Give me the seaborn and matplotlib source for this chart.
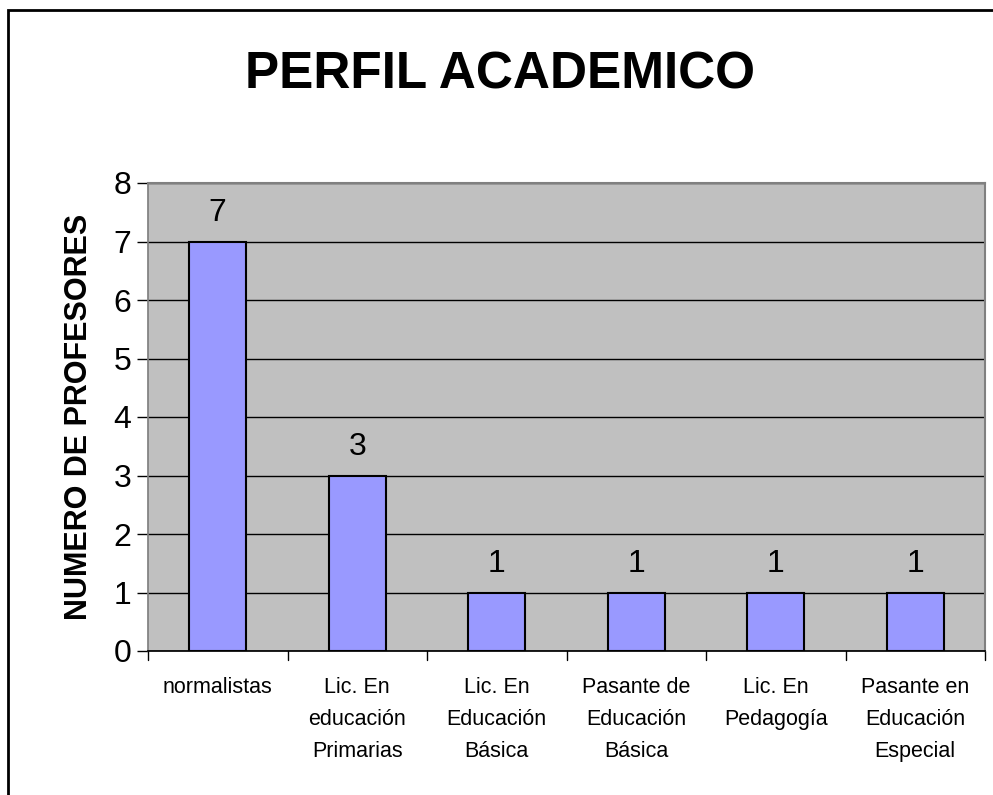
import pandas as pd
import matplotlib.pyplot as plt
import seaborn as sns

categorias = ["normalistas", "Lic. En\neducación\nPrimarias", "Lic. En\nEducación\nBásica",
              "Pasante de\nEducación\nBásica", "Lic. En\nPedagogía", "Pasante en\nEducación\nEspecial"]
profesores = [7, 3, 1, 1, 1, 1]

df = pd.DataFrame({"perfil": categorias, "profesores": profesores})

sns.set_theme(style="white")
plt.rcParams['font.family'] = ['Liberation Sans', 'DejaVu Sans']
plt.rcParams['text.color'] = 'black'
plt.rcParams['xtick.color'] = 'black'
plt.rcParams['ytick.color'] = 'black'
plt.rcParams['axes.labelcolor'] = 'black'

fig = plt.figure(figsize=(9.93, 7.95), dpi=100)
ax = fig.add_axes([148 / 993, 1 - 651 / 795, (985 - 148) / 993, (651 - 183) / 795])
ax.set_facecolor("#c0c0c0")

sns.barplot(data=df, x="perfil", y="profesores", color="#9999ff", saturation=1,
            width=0.41, edgecolor="black", linewidth=1.5, ax=ax, zorder=3)

ax.set_ylim(0, 8)
ax.set_xlim(-0.5, len(categorias) - 0.5)
ax.set_yticks(range(0, 9))
ax.yaxis.grid(True, color="black", linewidth=1)
ax.set_axisbelow(True)
ax.tick_params(axis="y", labelsize=23, length=8, width=1, direction="out", left=True, pad=4)
ax.tick_params(axis="x", labelsize=15.5, length=0, pad=19)
ax.set_xlabel("")
ax.set_ylabel("NUMERO DE PROFESORES", fontsize=22, fontweight="bold", labelpad=14)
for lbl in ax.get_xticklabels():
    lbl.set_linespacing(1.68)

# category separators below the axis
for b in [i - 0.5 for i in range(len(categorias) + 1)]:
    ax.plot([b, b], [0, -0.15], color="black", linewidth=1, clip_on=False)

for s in ["top", "right"]:
    ax.spines[s].set_color("#808080")
    ax.spines[s].set_linewidth(1.5)
ax.spines["left"].set_color("#808080")
ax.spines["bottom"].set_color("black")

for c in ax.containers:
    ax.bar_label(c, fontsize=23, padding=10, color="black")

fig.text(500 / 993, 1 - 75 / 795, "PERFIL ACADEMICO", ha="center", va="center",
         fontsize=37, fontweight="bold", color="black")

# outer chart frame
fig.patches.append(plt.Rectangle((8 / 993, -0.1), 1.2, 1 - 10 / 795 + 0.1, transform=fig.transFigure,
                                 fill=False, edgecolor="black", linewidth=2))

fig.savefig("out.png", dpi=100)
